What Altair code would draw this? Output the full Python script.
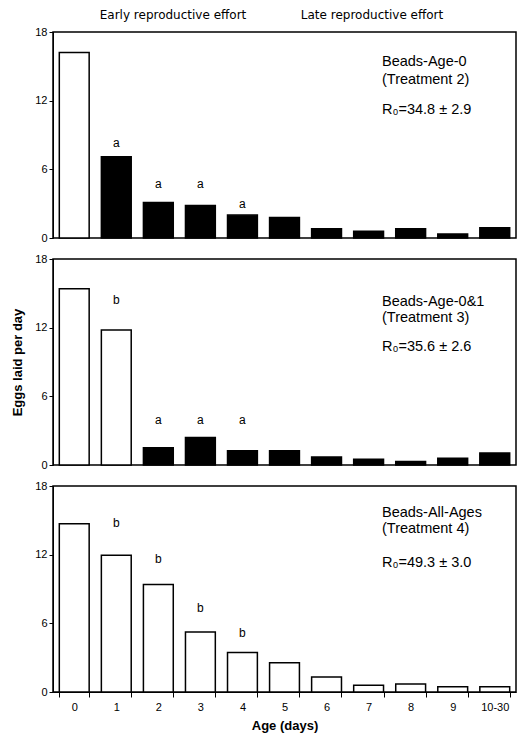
import altair as alt
import pandas as pd

ages = ["0", "1", "2", "3", "4", "5", "6", "7", "8", "9", "10-30"]
t2_values = [16.2, 7.1, 3.1, 2.85, 2.0, 1.8, 0.8, 0.6, 0.8, 0.35, 0.9]
t3_values = [15.4, 11.8, 1.5, 2.4, 1.25, 1.25, 0.7, 0.5, 0.3, 0.6, 1.05]
t4_values = [14.7, 11.95, 9.4, 5.25, 3.45, 2.55, 1.3, 0.6, 0.7, 0.45, 0.45]
t2_open = [True] + [False] * 10
t3_open = [True, True] + [False] * 9
t4_open = [True] * 11
t2_letters = ["", "a", "a", "a", "a", "", "", "", "", "", ""]
t3_letters = ["", "b", "a", "a", "a", "", "", "", "", "", ""]
t4_letters = ["", "b", "b", "b", "b", "", "", "", "", "", ""]
t2_letter_at = [0, 8.3, 4.7, 4.7, 3.0, 0, 0, 0, 0, 0, 0]
t3_letter_at = [0, 14.4, 3.9, 3.9, 3.9, 0, 0, 0, 0, 0, 0]
t4_letter_at = [0, 14.75, 11.65, 7.3, 5.15, 0, 0, 0, 0, 0, 0]
panel_lines = [
    ["Beads-Age-0", "(Treatment 2)", "R₀=34.8 ± 2.9"],
    ["Beads-Age-0&1", "(Treatment 3)", "R₀=35.6 ± 2.6"],
    ["Beads-All-Ages", "(Treatment 4)", "R₀=49.3 ± 3.0"],
]
panel_line_y = [[30, 48, 78], [43, 59, 88], [27, 43, 77]]
y_ticks = [0, 6, 12, 18]

FONT = "Liberation Sans"
W, H = 463, 206

series = [
    (t2_values, t2_open, t2_letters, t2_letter_at),
    (t3_values, t3_open, t3_letters, t3_letter_at),
    (t4_values, t4_open, t4_letters, t4_letter_at),
]


def panel(i):
    vals, opn, lets, lat = series[i]
    df = pd.DataFrame({
        "age": ages,
        "value": vals,
        "fill": ["open" if o else "filled" for o in opn],
        "letter": lets,
        "letter_at": lat,
    })
    last = i == 2
    if last:
        xaxis = alt.Axis(title="Age (days)", labelAngle=0, tickBand="extent",
                         labelFont=FONT, labelFontSize=11, labelColor="black",
                         titleFont=FONT, titleFontSize=13, titleFontWeight="bold",
                         titleColor="black", titlePadding=7, tickSize=5,
                         tickColor="black", domainColor="black", labelPadding=4)
    else:
        xaxis = None
    x = alt.X("age:N", sort=ages, scale=alt.Scale(paddingInner=0.29, paddingOuter=0.15), axis=xaxis)
    yaxis = alt.Axis(values=y_ticks, title="Eggs laid per day" if i == 1 else None,
                     grid=False, tickSize=4, tickColor="black", domainColor="black",
                     labelFont=FONT, labelFontSize=11, labelColor="black",
                     titleFont=FONT, titleFontSize=13, titleFontWeight="bold",
                     titleColor="black", titlePadding=10, labelPadding=2)
    y = alt.Y("value:Q", scale=alt.Scale(domain=[0, 18], nice=False), axis=yaxis)
    base = alt.Chart(df)
    bars = base.mark_bar(stroke="black", strokeWidth=1.5).encode(
        x=x, y=y,
        color=alt.Color("fill:N", scale=alt.Scale(domain=["open", "filled"], range=["white", "black"]), legend=None),
    )
    letters = base.transform_filter(alt.datum.letter != "").mark_text(
        font=FONT, fontSize=12, color="black", baseline="middle"
    ).encode(x=x, y=alt.Y("letter_at:Q"), text="letter:N")
    layers = [bars, letters]
    for j, line in enumerate(panel_lines[i]):
        layers.append(
            alt.Chart(pd.DataFrame({"t": [line]})).mark_text(
                font=FONT, fontSize=14.5, color="black", align="left", baseline="middle"
            ).encode(x=alt.value(329), y=alt.value(panel_line_y[i][j]), text="t:N")
        )
    if i == 0:
        for txt, cx in [("Early reproductive effort", 120), ("Late reproductive effort", 319)]:
            layers.append(
                alt.Chart(pd.DataFrame({"t": [txt]})).mark_text(
                    font="DejaVu Sans", fontSize=12, color="black", align="center", baseline="middle"
                ).encode(x=alt.value(cx), y=alt.value(-17), text="t:N")
            )
    return alt.layer(*layers).properties(width=W, height=H)


chart = alt.vconcat(panel(0), panel(1), panel(2), spacing=8).configure_view(
    stroke="black", strokeWidth=1.5
).properties(
    padding={"left": 3, "top": 0, "right": 4, "bottom": 2},
    background="white",
)

chart.save("out.html", embed_options={"renderer": "svg", "actions": False})
